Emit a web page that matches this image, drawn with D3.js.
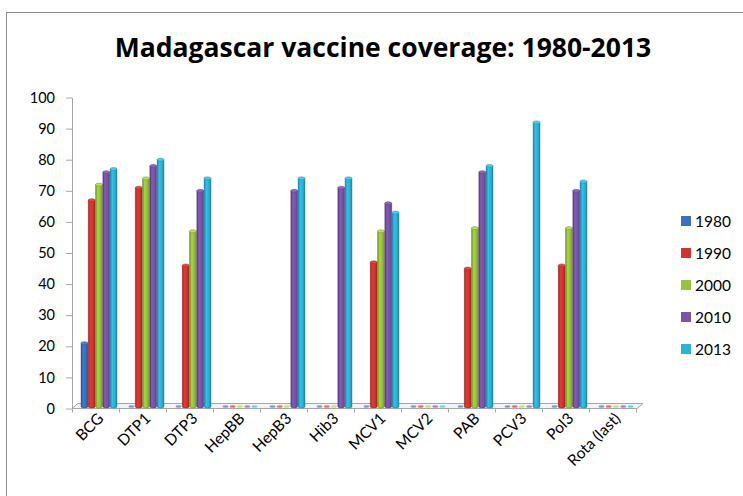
<!DOCTYPE html>
<html>
<head>
<meta charset="utf-8">
<script src="https://cdn.jsdelivr.net/npm/d3@7"></script>
<style>
  body { margin: 0; background: #fff; }
</style>
</head>
<body>
<svg id="chart" width="743" height="496" font-family="Lato, sans-serif"></svg>
<script>
const categories = ['BCG', 'DTP1', 'DTP3', 'HepBB', 'HepB3', 'Hib3', 'MCV1', 'MCV2', 'PAB', 'PCV3', 'Pol3', 'Rota (last)'];
const years = ['1980', '1990', '2000', '2010', '2013'];
const cov1980 = [21, 0, 0, 0, 0, 0, 0, 0, 0, 0, 0, 0];
const cov1990 = [67, 71, 46, 0, 0, 0, 47, 0, 45, 0, 46, 0];
const cov2000 = [72, 74, 57, 0, 0, 0, 57, 0, 58, 0, 58, 0];
const cov2010 = [76, 78, 70, 0, 70, 71, 66, 0, 76, 0, 70, 0];
const cov2013 = [77, 80, 74, 0, 74, 74, 63, 0, 78, 92, 73, 0];
const yTicks = [0, 10, 20, 30, 40, 50, 60, 70, 80, 90, 100];
const colors = ['#3b6fc2', '#cf3530', '#98c23c', '#7a52a6', '#2db1d5'];

const seriesValues = [cov1980, cov1990, cov2000, cov2010, cov2013];
const rows = categories.map((c, i) => ({
  cat: c,
  vals: years.map((y, j) => ({ year: y, value: seriesValues[j][i], idx: j }))
}));

const svg = d3.select('#chart');

const plot = { left: 72, right: 636, top: 97.5, bottom: 408.5 };
const depth = { dx: 6, dy: -5 };

// chart frame
svg.append('rect')
  .attr('x', 6.5).attr('y', 12.5)
  .attr('width', 800).attr('height', 600)
  .attr('fill', 'none').attr('stroke', '#8c8c8c').attr('stroke-width', 1);

// title
svg.append('text')
  .attr('x', 383).attr('y', 57)
  .attr('text-anchor', 'middle')
  .attr('font-family', '"Open Sans", sans-serif')
  .attr('font-size', 26.5).attr('font-weight', 'bold')
  .attr('fill', '#000')
  .text('Madagascar vaccine coverage: 1980-2013');

const x0 = d3.scaleBand()
  .domain(categories)
  .range([plot.left, plot.right]);

const x1 = d3.scaleBand()
  .domain(years)
  .range([9, 45])
  .paddingInner(0.05);

const y = d3.scaleLinear()
  .domain([0, 100])
  .range([plot.bottom, plot.top]);

// gradients for the cylinders
const defs = svg.append('defs');
colors.forEach((c, i) => {
  const g = defs.append('linearGradient')
    .attr('id', 'cyl' + i)
    .attr('x1', '0%').attr('x2', '100%').attr('y1', '0%').attr('y2', '0%');
  const base = d3.color(c);
  g.append('stop').attr('offset', '0%').attr('stop-color', base.darker(0.9));
  g.append('stop').attr('offset', '30%').attr('stop-color', base.brighter(0.25));
  g.append('stop').attr('offset', '65%').attr('stop-color', base);
  g.append('stop').attr('offset', '100%').attr('stop-color', base.darker(0.7));
});

// floor
const floorPts = [
  [plot.left, plot.bottom],
  [plot.right + 1, plot.bottom],
  [plot.right + 1 + depth.dx, plot.bottom + depth.dy],
  [plot.left + depth.dx, plot.bottom + depth.dy]
];
svg.append('path')
  .attr('d', d3.line()(floorPts) + 'Z')
  .attr('fill', '#f4f4f4')
  .attr('stroke', '#a6a6a6')
  .attr('stroke-width', 1);

// y axis
const yAxis = svg.append('g')
  .attr('transform', `translate(${plot.left},0)`)
  .call(d3.axisLeft(y).tickValues(yTicks).tickSize(6).tickPadding(11).tickSizeOuter(0));
yAxis.attr('font-family', 'Lato, sans-serif');
yAxis.select('.domain').attr('stroke', '#a6a6a6');
yAxis.selectAll('.tick line').attr('stroke', '#a6a6a6');
yAxis.selectAll('.tick text')
  .attr('font-size', 14.5).attr('fill', '#000');

// x axis ticks + labels
const xAxis = svg.append('g')
  .attr('transform', `translate(0,${plot.bottom})`);
const tickXs = categories.map(c => x0(c)).concat([plot.right]);
xAxis.selectAll('line.xt')
  .data(tickXs)
  .join('line')
  .attr('x1', d => d + 0.5).attr('x2', d => d + 0.5)
  .attr('y1', 0).attr('y2', 4)
  .attr('stroke', '#a6a6a6');
xAxis.selectAll('text.xl')
  .data(categories)
  .join('text')
  .attr('class', 'xl')
  .attr('transform', d => `translate(${x0(d) + x0.bandwidth() / 2 + 9},${11}) rotate(-45)`)
  .attr('text-anchor', 'end')
  .attr('font-size', 15.5)
  .attr('fill', '#000')
  .text(d => d);

// cylinders
const baseY = plot.bottom - 2;
const groups = svg.append('g').selectAll('g')
  .data(rows)
  .join('g')
  .attr('transform', d => `translate(${x0(d.cat)},0)`);

groups.each(function(row) {
  const g = d3.select(this);
  row.vals.forEach(v => {
    const bx = x1(v.year);
    const bw = x1.bandwidth();
    const cx = bx + bw / 2;
    const color = d3.color(colors[v.idx]);
    if (v.value <= 0) {
      g.append('ellipse')
        .attr('cx', cx).attr('cy', baseY)
        .attr('rx', bw / 2 - 0.5).attr('ry', 1.2)
        .attr('fill', color.brighter(0.4))
        .attr('opacity', 0.75);
      return;
    }
    const top = y(v.value);
    g.append('path')
      .attr('d', `M${bx},${top} L${bx},${baseY} A${bw / 2},1.5 0 0 0 ${bx + bw},${baseY} L${bx + bw},${top} Z`)
      .attr('fill', `url(#cyl${v.idx})`)
      .attr('stroke', color.darker(1.2))
      .attr('stroke-width', 0.4);
    g.append('ellipse')
      .attr('cx', cx).attr('cy', top)
      .attr('rx', bw / 2).attr('ry', 1.5)
      .attr('fill', color.brighter(0.5))
      .attr('stroke', color.darker(0.8))
      .attr('stroke-width', 0.5);
  });
});

// legend
const legend = svg.append('g')
  .attr('transform', 'translate(681,216)');
const li = legend.selectAll('g')
  .data(years)
  .join('g')
  .attr('transform', (d, i) => `translate(0,${i * 32})`);
li.append('rect')
  .attr('width', 10).attr('height', 10)
  .attr('fill', (d, i) => colors[i]);
li.append('text')
  .attr('x', 14).attr('y', 10.5)
  .attr('font-size', 15.5)
  .attr('fill', '#000')
  .text(d => d);
</script>
</body>
</html>
